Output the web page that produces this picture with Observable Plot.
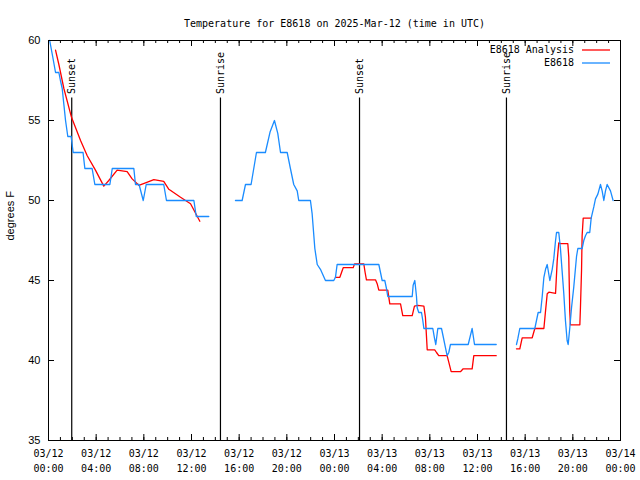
<!DOCTYPE html>
<html><head><meta charset="utf-8">
<script src="https://cdn.jsdelivr.net/npm/d3@7"></script>
<script src="https://cdn.jsdelivr.net/npm/@observablehq/plot@0.6"></script>
<style>body{margin:0;background:#fff} svg{display:block}</style>
</head><body><div id="chart"></div>
<script>
const title = "Temperature for E8618 on 2025-Mar-12 (time in UTC)";
const yLabel = "degrees F";
const startTime = "2025-03-12T00:00:00Z";
const endTime = "2025-03-14T00:00:00Z";
const yTicks = [35, 40, 45, 50, 55, 60];
const seriesNames = ["E8618 Analysis", "E8618"];

// Observations (E8618): hours since start, degrees F, segment id
const obsHours = [0.1,0.35,0.59,0.87,1.0,1.15,1.29,1.43,1.62,1.9,2.07,2.9,3.05,3.66,3.89,5.15,5.35,7.16,7.3,7.6,7.95,8.2,9.67,9.9,12.2,12.4,13.45,
  15.69,16.25,16.53,17.0,17.45,18.2,18.6,18.96,19.24,19.47,20.03,20.3,20.58,20.87,21.0,21.98,22.12,22.35,22.55,22.82,23.24,23.94,24.08,24.22,27.72,27.86,28.0,28.22,28.36,28.47,30.52,30.6,30.74,30.88,30.94,31.07,31.3,31.41,31.5,32.25,32.39,32.5,32.67,32.98,33.12,33.31,33.45,33.59,33.73,35.22,35.55,35.75,37.57,
  39.27,39.38,39.55,40.81,40.95,41.09,41.29,41.43,41.57,41.71,41.85,42.07,42.27,42.4,42.55,42.63,42.82,42.96,43.1,43.24,43.38,43.52,43.61,43.74,43.89,44.08,44.31,44.42,44.78,44.92,45.06,45.2,45.42,45.54,45.76,45.9,46.1,46.32,46.46,46.6,46.74,46.88,47.16,47.38];
const obsTemps = [60,59,58,58,57.5,57,56,55,54,54,53,53,52,52,51,51,52,52,51,51,50,51,51,50,50,49,49,
  50,50,51,51,53,53,54.3,55,54.2,53,53,52,51,50.6,50,50,49.2,47,46,45.7,45,45,45.2,46,46,45.5,45,45,44.5,44,44,44.7,45,44,43.3,43,43,42.5,42,42,41.4,41,42,42,41.5,40.8,40.3,40.5,41,41,42,41,41,
  41,41.35,42,42,42.5,43,43,44,45.2,45.7,46,45,45.7,46.35,47.5,48,48,47,45.6,44.2,42.5,41.25,41,42,43.3,44.6,46.5,47,47,47.5,47.8,48,48,48.9,49.6,50.1,50.4,51,50.6,50,50.6,51,50.6,50];
const obsSegs = [...Array(27).fill(0), ...Array(53).fill(1), ...Array(44).fill(2)];

// Analysis (E8618 Analysis)
const anaHours = [0.59,0.87,1.29,1.93,2.69,3.25,3.94,4.64,5.06,5.76,6.6,7.02,7.58,8.14,8.84,9.67,10.1,11.08,11.92,12.7,
  24.08,24.45,24.73,25.57,25.68,26.46,26.57,26.68,27.44,27.58,27.72,28.47,28.64,29.54,29.73,30.52,30.71,30.99,31.5,31.63,31.78,32.41,32.56,32.75,33.45,33.59,33.79,34.57,34.8,35.55,35.69,37.57,
  39.27,39.55,39.75,40.59,40.81,41.57,41.71,41.85,41.99,42.55,42.69,42.82,42.96,43.58,43.66,43.74,43.8,44.59,44.64,44.73,44.78,44.87,45.54];
const anaTemps = [59.4,58.5,57,55.2,53.75,52.8,51.9,50.9,51.25,51.9,51.8,51.35,50.95,51.1,51.3,51.2,50.7,50.2,49.8,48.7,
  45.2,45.2,45.8,45.8,46.04,46.04,45.5,45.04,45.04,44.8,44.4,44.4,43.54,43.54,42.8,42.8,43.4,43.44,43.4,42.7,40.67,40.67,40.5,40.3,40.3,39.9,39.3,39.3,39.48,39.48,40.3,40.3,
  40.73,40.73,41.42,41.42,42,42,43.1,44.17,44.27,44.2,46.25,47.35,47.3,47.3,46.46,43.1,42.23,42.23,43.33,45.63,47.8,48.9,48.9];
const anaSegs = [...Array(20).fill(0), ...Array(32).fill(1), ...Array(23).fill(2)];

// Sun events
const eventHours = [1.95, 14.43, 26.1, 38.43];
const eventLabels = ["Sunset", "Sunrise", "Sunset", "Sunrise"];

const t0 = new Date(startTime), t1 = new Date(endTime);
const toDate = h => new Date(+t0 + h * 3600e3);
const obs = obsHours.map((h, i) => ({t: toDate(h), v: obsTemps[i], s: obsSegs[i]}));
const ana = anaHours.map((h, i) => ({t: toDate(h), v: anaTemps[i], s: anaSegs[i]}));
const events = eventHours.map((h, i) => ({t: toDate(h), label: eventLabels[i]}));
const majorTicks = d3.utcHour.every(4).range(t0, new Date(+t1 + 1));
const minorTicks = d3.utcHour.range(t0, new Date(+t1 + 1));

const W = 640, H = 480, mL = 48, mR = 20, mT = 40, mB = 40;
const fw = W - mL - mR, fh = H - mT - mB;
const mono = "DejaVu Sans Mono";
const RED = "#ff0000", BLUE = "#1a8cff";

const plot = Plot.plot({
  width: W, height: H,
  marginLeft: mL, marginRight: mR, marginTop: mT, marginBottom: mB,
  style: {fontFamily: mono, fontSize: "10px", background: "#fff", color: "#000"},
  x: {type: "utc", domain: [t0, t1]},
  y: {domain: [35, 60]},
  marks: [
    Plot.tickX(minorTicks, {x: d => d, insetTop: fh - 3, stroke: "#000"}),
    Plot.tickX(minorTicks, {x: d => d, insetBottom: fh - 3, stroke: "#000"}),
    Plot.tickX(majorTicks, {x: d => d, insetTop: fh - 6, stroke: "#000"}),
    Plot.tickX(majorTicks, {x: d => d, insetBottom: fh - 6, stroke: "#000"}),
    Plot.tickY(yTicks, {y: d => d, insetRight: fw - 6, stroke: "#000"}),
    Plot.tickY(yTicks, {y: d => d, insetLeft: fw - 6, stroke: "#000"}),
    Plot.axisX({ticks: majorTicks, tickSize: 0, tickPadding: 6, label: null, fontSize: 10, lineHeight: 1.5,
      tickFormat: d => d3.utcFormat("%m/%d")(d) + "\n" + d3.utcFormat("%H:%M")(d)}),
    Plot.axisY({ticks: yTicks, tickSize: 0, tickPadding: 8, label: null, fontFamily: "Liberation Sans", fontSize: 11}),
    Plot.ruleX(events, {x: "t", y1: 35, y2: 56.4, stroke: "#000", strokeWidth: 1.2}),
    Plot.text(events, {x: "t", y: 56.4, text: "label", rotate: -90, textAnchor: "start", dy: -4, fontSize: 10}),
    Plot.line(ana, {x: "t", y: "v", z: "s", stroke: RED, strokeWidth: 1.3}),
    Plot.line(obs, {x: "t", y: "v", z: "s", stroke: BLUE, strokeWidth: 1.3}),
    Plot.text([title], {frameAnchor: "top", dy: -21, fontSize: 10}),
    Plot.text([yLabel], {frameAnchor: "left", dx: -38, rotate: -90, fontFamily: "Liberation Sans", fontSize: 11}),
    Plot.frame({stroke: "#000"})
  ]
});

// legend (gnuplot style, inside top-right)
const svg = d3.select(plot);
const xr = mL + fw;
[[seriesNames[0], RED, 10], [seriesNames[1], BLUE, 23]].forEach(([name, col, off]) => {
  svg.append("text").attr("x", xr - 46).attr("y", mT + off).attr("dy", "0.32em")
    .attr("text-anchor", "end").attr("font-family", mono).attr("font-size", 10).attr("fill", "#000").text(name);
  svg.append("line").attr("x1", xr - 38).attr("x2", xr - 10).attr("y1", mT + off).attr("y2", mT + off)
    .attr("stroke", col).attr("stroke-width", 1.3);
});
document.getElementById("chart").appendChild(plot);
</script>
</body></html>
